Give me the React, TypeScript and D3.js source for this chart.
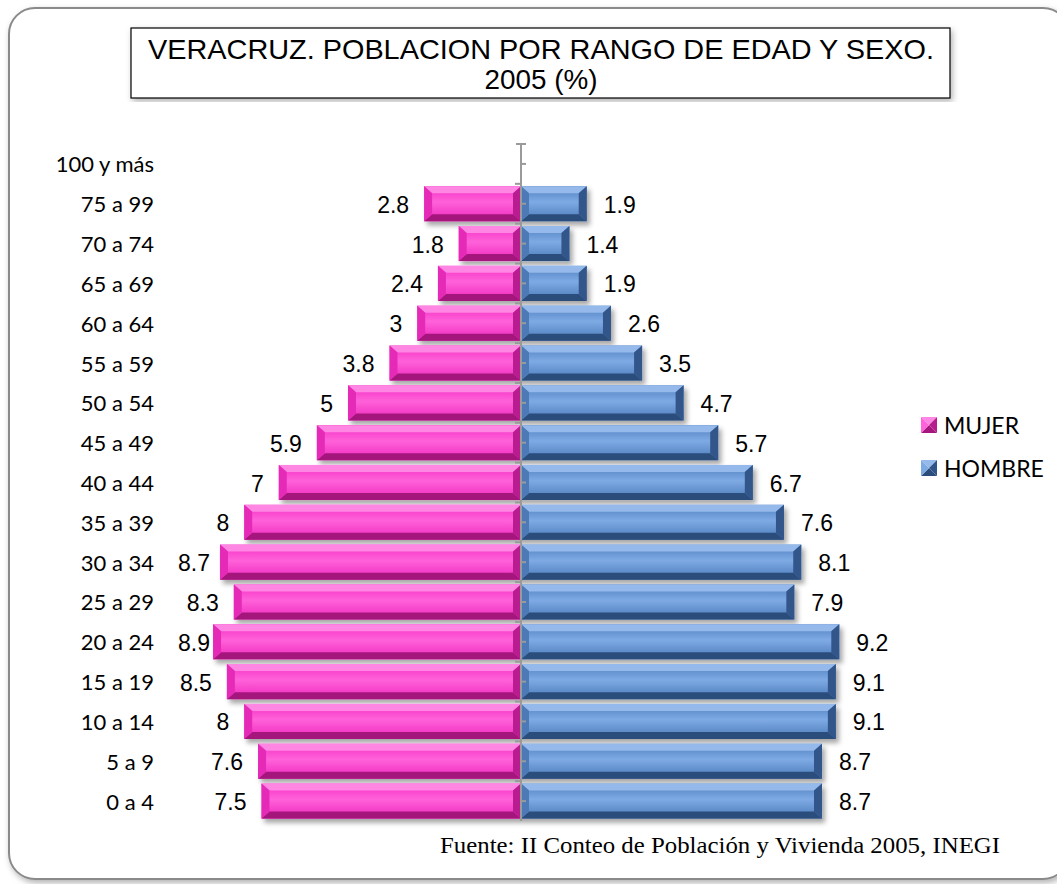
import { useMemo } from "react"
import * as d3 from "d3"

// age groups, top to bottom
const categories = [
  "100 y más", "75 a 99", "70 a 74", "65 a 69", "60 a 64", "55 a 59",
  "50 a 54", "45 a 49", "40 a 44", "35 a 39", "30 a 34", "25 a 29",
  "20 a 24", "15 a 19", "10 a 14", "5 a 9", "0 a 4",
]
const mujer: (number | null)[] = [
  null, 2.8, 1.8, 2.4, 3, 3.8, 5, 5.9, 7, 8, 8.7, 8.3, 8.9, 8.5, 8, 7.6, 7.5,
]
const hombre: (number | null)[] = [
  null, 1.9, 1.4, 1.9, 2.6, 3.5, 4.7, 5.7, 6.7, 7.6, 8.1, 7.9, 9.2, 9.1, 9.1, 8.7, 8.7,
]
const seriesNames = ["MUJER", "HOMBRE"]

const W = 1057
const H = 884
const CX = 521
const LABEL_FS = 23
const LABEL_MIN_X = 178

type Palette = { id: string; top: string; bottom: string; left: string; right: string; c0: string; c1: string; c2: string }

const pink: Palette = {
  id: "gp", top: "#ff86e2", bottom: "#a5177d", left: "#e52cb8", right: "#b81d90",
  c0: "#f52fc4", c1: "#ff62da", c2: "#ee27bc",
}
const blue: Palette = {
  id: "gb", top: "#94b9ea", bottom: "#2c4d7c", left: "#4d7ab6", right: "#30548a",
  c0: "#4f80c0", c1: "#7eaae4", c2: "#4a7ab8",
}

// rough Arial width of a number label
const labelWidth = (v: number) =>
  String(v).split("").reduce((s, ch) => s + (ch === "." ? 0.278 : 0.556), 0) * LABEL_FS

function BevelBar({ x, y, w, h, pal }: { x: number; y: number; w: number; h: number; pal: Palette }) {
  if (w <= 0) return null
  const b = Math.min(8, w / 2)
  const bv = Math.min(7, h / 2)
  const x2 = x + w
  const y2 = y + h
  const pts = (a: number[][]) => a.map((p) => p.join(",")).join(" ")
  return (
    <g>
      <rect x={x} y={y} width={w} height={h} fill={`url(#${pal.id})`} />
      <polygon points={pts([[x, y], [x2, y], [x2 - b, y + bv], [x + b, y + bv]])} fill={pal.top} />
      <polygon points={pts([[x, y2], [x2, y2], [x2 - b, y2 - bv], [x + b, y2 - bv]])} fill={pal.bottom} />
      <polygon points={pts([[x, y], [x + b, y + bv], [x + b, y2 - bv], [x, y2]])} fill={pal.left} />
      <polygon points={pts([[x2, y], [x2 - b, y + bv], [x2 - b, y2 - bv], [x2, y2]])} fill={pal.right} />
    </g>
  )
}

function LegendSwatch({ x, y, pal }: { x: number; y: number; pal: Palette }) {
  const s = 16
  const c = [x + s / 2, y + s / 2]
  const pts = (a: number[][]) => a.map((p) => p.join(",")).join(" ")
  return (
    <g>
      <polygon points={pts([[x, y], [x + s, y], c])} fill={pal.top} />
      <polygon points={pts([[x, y + s], [x + s, y + s], c])} fill={pal.bottom} />
      <polygon points={pts([[x, y], [x, y + s], c])} fill={pal.c1} />
      <polygon points={pts([[x + s, y], [x + s, y + s], c])} fill={pal.right} />
    </g>
  )
}

export default function App() {
  const y = useMemo(
    () => d3.scaleBand<string>().domain(categories).range([144, 821]).paddingInner(0.12).paddingOuter(0.06),
    []
  )
  const x = useMemo(() => d3.scaleLinear().domain([0, 10]).range([0, 346]), [])
  const bh = y.bandwidth()
  const step = y.step()

  return (
    <svg width={W} height={H} style={{ position: "absolute", left: 0, top: 0, background: "#fff" }}>
      <defs>
        {[pink, blue].map((p) => (
          <linearGradient key={p.id} id={p.id} x1="0" y1="0" x2="0" y2="1">
            <stop offset="0" stopColor={p.c0} />
            <stop offset="0.45" stopColor={p.c1} />
            <stop offset="1" stopColor={p.c2} />
          </linearGradient>
        ))}
        <filter id="shadow" x="-10%" y="-20%" width="130%" height="160%">
          <feDropShadow dx="3" dy="4" stdDeviation="2.5" floodColor="#000" floodOpacity="0.35" />
        </filter>
        <filter id="frameShadow" x="-5%" y="-5%" width="110%" height="110%">
          <feDropShadow dx="2" dy="3" stdDeviation="3" floodColor="#000" floodOpacity="0.3" />
        </filter>
      </defs>

      {/* outer frame */}
      <rect x={9} y={8} width={1060} height={871} rx={26} fill="#fff" stroke="#8a8a8a" strokeWidth={2} filter="url(#frameShadow)" />

      {/* title */}
      <rect x={131} y={28} width={819} height={70} fill="#fff" stroke="#000" strokeWidth={1.2} filter="url(#frameShadow)" />
      <g fontFamily="'Liberation Sans Narrow', 'Arial Narrow', 'Liberation Sans', sans-serif" fontSize={28} textAnchor="middle" fill="#000">
        <text x={541} y={59} textLength={786} lengthAdjust="spacingAndGlyphs">VERACRUZ. POBLACION POR RANGO DE EDAD Y SEXO.</text>
        <text x={541} y={89} textLength={113} lengthAdjust="spacingAndGlyphs">2005 (%)</text>
      </g>

      {/* bars */}
      <g filter="url(#shadow)">
        {categories.map((c, i) => {
          const m = mujer[i]
          const h = hombre[i]
          const yy = y(c)!
          return (
            <g key={c}>
              {m != null && <BevelBar x={CX - x(m)} y={yy} w={x(m)} h={bh} pal={pink} />}
              {h != null && <BevelBar x={CX} y={yy} w={x(h)} h={bh} pal={blue} />}
            </g>
          )
        })}
      </g>

      {/* axis */}
      <g stroke="#9a9a9a" strokeWidth={2}>
        <line x1={CX} x2={CX} y1={144} y2={821} />
        <line x1={CX - 5} x2={CX + 5} y1={144} y2={144} />
        {categories.map((c, i) => (
          <g key={c}>
            {i > 0 && <line x1={CX - 6} x2={CX} y1={144 + i * step} y2={144 + i * step} />}
            <line x1={CX} x2={CX + 5} y1={y(c)! + bh / 2} y2={y(c)! + bh / 2} />
          </g>
        ))}
      </g>

      {/* category labels */}
      <g fontFamily="Lato, 'Open Sans', sans-serif" fontSize={22} textAnchor="end" fill="#000">
        {categories.map((c) => (
          <text key={c} x={154} y={y(c)! + bh / 2} dominantBaseline="central">{c}</text>
        ))}
      </g>

      {/* value labels */}
      <g fontFamily="'Liberation Sans', Arial, sans-serif" fontSize={LABEL_FS} fill="#000">
        {categories.map((c, i) => {
          const m = mujer[i]
          const h = hombre[i]
          const cy = y(c)! + bh / 2 + 1
          return (
            <g key={c}>
              {m != null && (
                <text
                  x={Math.max(CX - x(m) - 15, LABEL_MIN_X + labelWidth(m))}
                  y={cy}
                  textAnchor="end"
                  dominantBaseline="central"
                >
                  {m}
                </text>
              )}
              {h != null && (
                <text x={CX + x(h) + 17} y={cy} textAnchor="start" dominantBaseline="central">{h}</text>
              )}
            </g>
          )
        })}
      </g>

      {/* legend */}
      {[pink, blue].map((p, i) => (
        <g key={p.id}>
          <LegendSwatch x={921} y={417 + i * 43} pal={p} />
          <text x={944} y={425 + i * 43} dominantBaseline="central" fontFamily="Lato, 'Open Sans', sans-serif" fontSize={23} fill="#000">
            {seriesNames[i]}
          </text>
        </g>
      ))}

      {/* source */}
      <text x={440} y={853} fontFamily="'Liberation Serif', 'Times New Roman', serif" fontSize={23} fill="#000" textLength={560} lengthAdjust="spacingAndGlyphs">
        Fuente: II Conteo de Población y Vivienda 2005, INEGI
      </text>
    </svg>
  )
}
